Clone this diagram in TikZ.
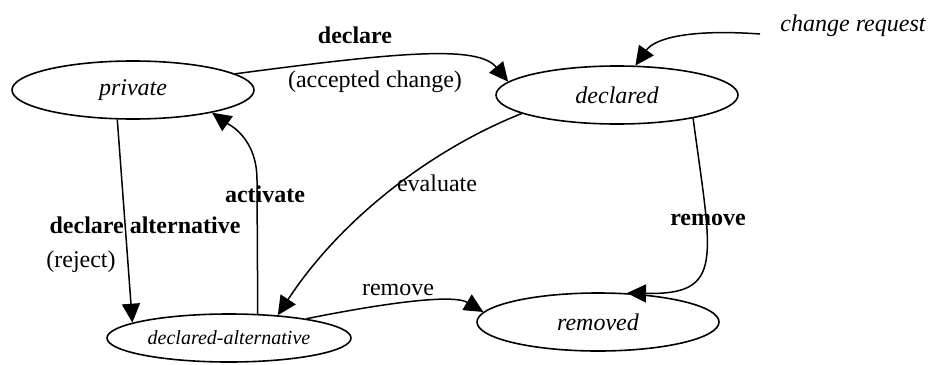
\documentclass[tikz,border=0pt]{standalone}
\usepackage{fontspec}
\setmainfont{Liberation Serif}
\usetikzlibrary{shapes.geometric,arrows.meta}
\begin{document}
\begin{tikzpicture}[x=0.5pt,y=-0.5pt,
  state/.style={draw,ellipse,line width=0.8pt,inner sep=0pt,
    minimum width=121pt,minimum height=29pt,
    font=\itshape\fontsize{12}{14}\selectfont},
  trans/.style={line width=0.75pt,-{Triangle[length=9.5pt,width=9pt]}},
  lbl/.style={inner sep=0pt,font=\fontsize{12}{14}\selectfont},
  blbl/.style={inner sep=0pt,font=\bfseries\fontsize{12}{14}\selectfont}]
\useasboundingbox (0,0) rectangle (940,364);

% states
\node[state] (private) at (133,90) {private};
\node[state] (declared) at (617,95) {declared};
\node[state,minimum width=122pt,minimum height=24pt,
      font=\itshape\fontsize{10}{12}\selectfont] (alt) at (229,338) {declared-alternative};
\node[state] (removed) at (598,322) {removed};

% external trigger
\node[lbl,font=\itshape\fontsize{12}{14}\selectfont] (creq) at (853,26) {change request};
\coordinate (crstart) at (760,34);

% transition labels
\node[blbl] (ldeclare) at (355,35) {declare};
\node[lbl] (laccept) at (375,82) {(accepted change)};
\node[blbl] (lalt) at (145,225) {declare alternative};
\node[lbl] (lreject) at (81,262) {(reject)};
\node[blbl] (lactivate) at (265,194) {activate};
\node[lbl] (levaluate) at (437,183) {evaluate};
\node[blbl] (lremoveA) at (708,220) {remove};
\node[lbl] (lremoveB) at (398,290) {remove};

% transitions
\draw[trans] (private.9) .. controls (400,52) and (478,45) .. (declared.173);
\draw[trans] (crstart) .. controls (690,29) and (655,38) .. (declared.58);
\draw[trans] (private.242) -- (alt.171);
\draw[trans] (alt.40) -- (257,180) .. controls (257,137) and (228,124) .. (private.344);
\draw[trans] (declared.191) .. controls (430,150) and (340,220) .. (alt.25);
\draw[trans] (declared.343) .. controls (712,260) and (725,295) .. (removed.45);
\draw[trans] (alt.14) .. controls (400,300) and (455,295) .. (removed.175);
\end{tikzpicture}
\end{document}
